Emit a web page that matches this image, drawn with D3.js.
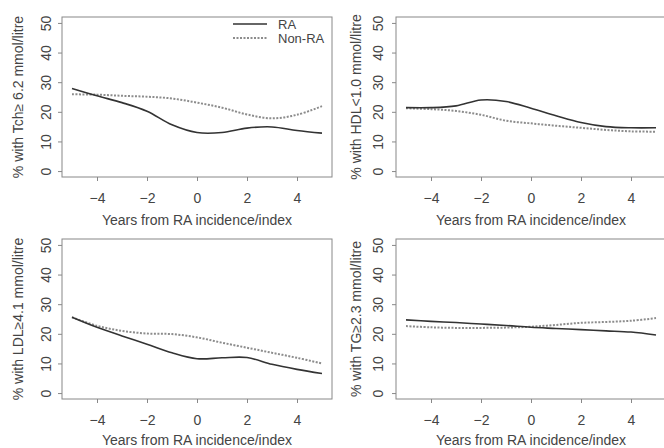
<!DOCTYPE html>
<html>
<head>
<meta charset="utf-8">
<script src="https://cdn.jsdelivr.net/npm/d3@7"></script>
<style>
    body { margin: 0; background: #fff; }
    svg { display: block; font-family: "Liberation Sans", Arial, sans-serif; }
    .tick text { fill: #444; font-size: 14px; }
    .tick line { stroke: #888; }
</style>
</head>
<body>
<div id="chart"></div>
<script>
'use strict';

var years = [-5, -4, -3, -2, -1, 0, 1, 2, 3, 4, 5];
var xTicks = [-4, -2, 0, 2, 4];
var yTicks = [0, 10, 20, 30, 40, 50];
var seriesNames = ['RA', 'Non-RA'];
var xTitle = 'Years from RA incidence/index';

// % of patients over threshold
var tchRA = [27.9, 25.4, 23.1, 20.2, 15.6, 13.0, 13.0, 14.5, 14.9, 13.7, 12.8];
var tchNonRA = [25.9, 25.8, 25.4, 25.1, 24.5, 23.1, 21.4, 19.1, 17.8, 19.0, 21.9];
var hdlRA = [21.4, 21.4, 22.0, 24.0, 23.5, 21.2, 18.7, 16.4, 15.0, 14.6, 14.6];
var hdlNonRA = [21.2, 20.9, 20.3, 19.0, 17.0, 16.1, 15.3, 14.6, 13.9, 13.4, 13.3];
var ldlRA = [25.6, 22.2, 19.3, 16.5, 13.6, 11.6, 11.9, 12.0, 9.7, 8.0, 6.6];
var ldlNonRA = [25.6, 22.7, 21.0, 20.1, 19.9, 18.8, 17.0, 15.3, 13.6, 11.9, 10.0];
var tgRA = [24.7, 24.2, 23.8, 23.3, 22.8, 22.2, 21.8, 21.4, 21.0, 20.6, 19.6];
var tgNonRA = [22.6, 22.2, 22.0, 22.0, 22.1, 22.4, 23.0, 23.7, 24.0, 24.4, 25.3];

var panels = [
    { title: '% with Tch\u2265 6.2 mmol/litre', ra: tchRA, nonRa: tchNonRA, col: 0, row: 0, legend: true },
    { title: '% with HDL<1.0 mmol/litre', ra: hdlRA, nonRa: hdlNonRA, col: 1, row: 0 },
    { title: '% with LDL\u22654.1 mmol/litre', ra: ldlRA, nonRa: ldlNonRA, col: 0, row: 1 },
    { title: '% with TG\u22652.3 mmol/litre', ra: tgRA, nonRa: tgNonRA, col: 1, row: 1 }
];

var width = 664,
    height = 448;

// plot boxes (R style, 4% padding around data range)
var cols = [{ left: 62, right: 332, tickOff: 16, titleOff: 44 },
            { left: 396, right: 666, tickOff: 18, titleOff: 40 }];
var rows = [{ top: 17, bottom: 177, titleOff: 43 }, { top: 239, bottom: 399, titleOff: 41 }];

var textColor = '#444',
    axisColor = '#888',
    raColor = '#333',
    nonRaColor = '#8c8c8c';

var svg = d3.select('#chart').append('svg')
    .attr('width', width)
    .attr('height', height);

panels.forEach(function (p) {
    var c = cols[p.col], r = rows[p.row];

    var x = d3.scaleLinear().domain([-5.4, 5.4]).range([c.left, c.right]);
    var y = d3.scaleLinear().domain([-2, 52]).range([r.bottom, r.top]);

    var g = svg.append('g');

    g.append('rect')
        .attr('x', c.left)
        .attr('y', r.top)
        .attr('width', c.right - c.left)
        .attr('height', r.bottom - r.top)
        .attr('fill', 'none')
        .attr('stroke', axisColor)
        .attr('stroke-width', 1);

    var xAxis = g.append('g')
        .attr('transform', 'translate(0,' + r.bottom + ')')
        .call(d3.axisBottom(x).tickValues(xTicks).tickSize(4).tickPadding(12)
            .tickFormat(function (d) { return d < 0 ? '\u2212' + Math.abs(d) : d; }));
    xAxis.select('.domain').remove();

    var yAxis = g.append('g')
        .attr('transform', 'translate(' + c.left + ',0)')
        .call(d3.axisLeft(y).tickValues(yTicks).tickSize(4));
    yAxis.select('.domain').remove();
    yAxis.selectAll('.tick text')
        .attr('transform', 'rotate(-90)')
        .attr('text-anchor', 'middle')
        .attr('x', 0)
        .attr('y', -c.tickOff)
        .attr('dy', '0.36em');

    g.append('text')
        .attr('transform', 'translate(' + (c.left - c.titleOff) + ',' + ((r.top + r.bottom) / 2) + ') rotate(-90)')
        .attr('text-anchor', 'middle')
        .attr('dy', '0.36em')
        .attr('fill', textColor)
        .style('font-size', '14px')
        .text(p.title);

    g.append('text')
        .attr('x', (c.left + c.right) / 2)
        .attr('y', r.bottom + r.titleOff)
        .attr('text-anchor', 'middle')
        .attr('dy', '0.36em')
        .attr('fill', textColor)
        .style('font-size', '14px')
        .text(xTitle);

    var line = d3.line()
        .x(function (d, i) { return x(years[i]); })
        .y(function (d) { return y(d); })
        .curve(d3.curveCatmullRom);

    g.append('path')
        .attr('d', line(p.nonRa))
        .attr('fill', 'none')
        .attr('stroke', nonRaColor)
        .attr('stroke-width', 2)
        .attr('stroke-dasharray', '2,1.5');

    g.append('path')
        .attr('d', line(p.ra))
        .attr('fill', 'none')
        .attr('stroke', raColor)
        .attr('stroke-width', 1.6);

    if (p.legend) {
        var lg = g.append('g');
        seriesNames.forEach(function (name, i) {
            var ly = 24 + i * 14;
            lg.append('line')
                .attr('x1', 233).attr('x2', 267)
                .attr('y1', ly).attr('y2', ly)
                .attr('stroke', i === 0 ? raColor : nonRaColor)
                .attr('stroke-width', i === 0 ? 1.6 : 2)
                .attr('stroke-dasharray', i === 0 ? null : '2,1.5');
            lg.append('text')
                .attr('x', 278)
                .attr('y', ly)
                .attr('dy', '0.36em')
                .attr('fill', textColor)
                .style('font-size', '13px')
                .text(name);
        });
    }
});
</script>
</body>
</html>
